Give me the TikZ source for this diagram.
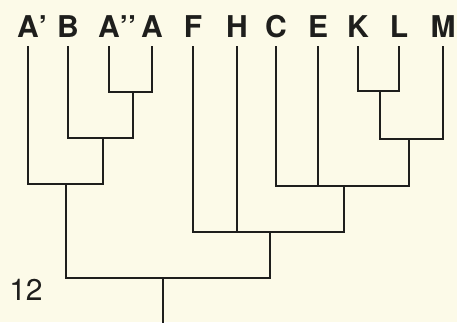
\documentclass[tikz,border=0pt]{standalone}
\usepackage{fontspec}
\setmainfont{TeX Gyre Heros}
\definecolor{paper}{RGB}{252,250,232}
\definecolor{ink}{RGB}{30,30,28}
\begin{document}
\begin{tikzpicture}[x=1pt,y=-1pt,
  taxon/.style={anchor=base,inner sep=0pt,text=ink,font=\fontsize{30}{30}\selectfont\bfseries},
  branch/.style={draw=ink,line width=2.2pt,line cap=butt,line join=miter},
  scale note/.style={anchor=base,inner sep=0pt,text=ink,font=\fontsize{30}{30}\selectfont}]
  \fill[paper] (0,0) rectangle (457,322);
  \useasboundingbox (0,0) rectangle (457,322);

  % taxon labels
  \node[taxon] (lA1) at (28,37) {A\rlap{’}};
  \node[taxon] (lB)  at (68,37) {B};
  \node[taxon] (lA2) at (109,37) {A\rlap{’’}};
  \node[taxon] (lA)  at (152,37) {A};
  \node[taxon] (lF)  at (193,37) {F};
  \node[taxon] (lH)  at (237,37) {H};
  \node[taxon] (lC)  at (276,37) {C};
  \node[taxon] (lE)  at (318,37) {E};
  \node[taxon] (lK)  at (358,37) {K};
  \node[taxon] (lL)  at (399,37) {L};
  \node[taxon] (lM)  at (443,37) {M};

  % tips of the terminal branches
  \coordinate (tA1) at (28,46);
  \coordinate (tB)  at (68,46);
  \coordinate (tA2) at (109,46);
  \coordinate (tA)  at (152,46);
  \coordinate (tF)  at (193,46);
  \coordinate (tH)  at (237,46);
  \coordinate (tC)  at (276,46);
  \coordinate (tE)  at (318,46);
  \coordinate (tK)  at (358,46);
  \coordinate (tL)  at (399,46);
  \coordinate (tM)  at (443,46);

  % internal nodes: (stem x, bar y)
  \coordinate (n1) at (133,92);
  \coordinate (n2) at (103,138);
  \coordinate (n3) at (66,184);
  \coordinate (n4) at (380,91);
  \coordinate (n5) at (409,139);
  \coordinate (n6) at (344,186);
  \coordinate (n7) at (270,232);
  \coordinate (root) at (163,278);
  \coordinate (base) at (163,323);

  % branches
  \draw[branch] (tA2) |- (n1);
  \draw[branch] (tA)  |- (n1);
  \draw[branch] (tB)  |- (n2);
  \draw[branch] (n1)  |- (n2);
  \draw[branch] (tA1) |- (n3);
  \draw[branch] (n2)  |- (n3);
  \draw[branch] (tK)  |- (n4);
  \draw[branch] (tL)  |- (n4);
  \draw[branch] (n4)  |- (n5);
  \draw[branch] (tM)  |- (n5);
  \draw[branch] (tC)  |- (n6);
  \draw[branch] (tE)  |- (n6);
  \draw[branch] (n5)  |- (n6);
  \draw[branch] (tF)  |- (n7);
  \draw[branch] (tH)  |- (n7);
  \draw[branch] (n6)  |- (n7);
  \draw[branch] (n3)  |- (root);
  \draw[branch] (n7)  |- (root);
  \draw[branch] (root) -- (base);

  \node[scale note] (num) at (26,300) {12};
\end{tikzpicture}
\end{document}
